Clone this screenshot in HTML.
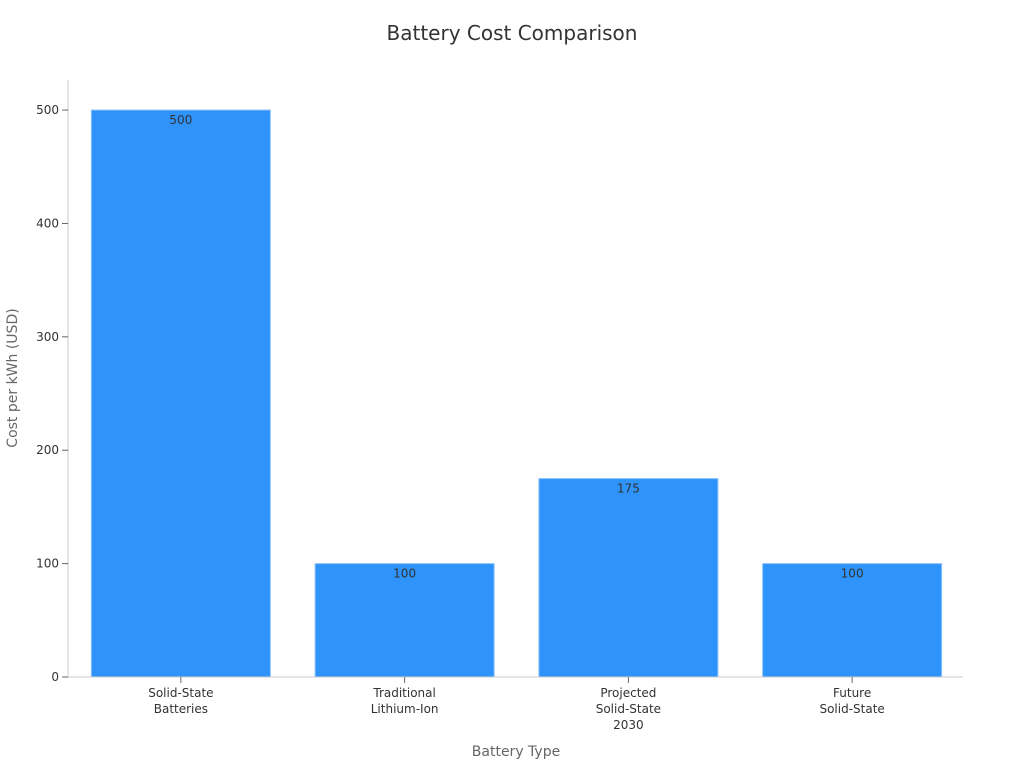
<!DOCTYPE html>
<html>
<head>
<meta charset="utf-8">
<style>
html,body{margin:0;padding:0;background:#fff;}
svg{display:block;font-family:"DejaVu Sans","Liberation Sans",sans-serif;}
</style>
</head>
<body>
<svg id="chart" width="1024" height="768" viewBox="0 0 1024 768">
  <text x="512" y="40" text-anchor="middle" font-size="20" fill="#333">Battery Cost Comparison</text>
  <g id="yaxis"></g>
  <g id="bars"></g>
  <g id="xaxis"></g>
  <text x="516" y="756" text-anchor="middle" font-size="14" fill="#666">Battery Type</text>
  <text transform="translate(17,378) rotate(-90)" text-anchor="middle" font-size="14" fill="#666">Cost per kWh (USD)</text>
</svg>
<script>
const categories = [["Solid-State","Batteries"],["Traditional","Lithium-Ion"],["Projected","Solid-State","2030"],["Future","Solid-State"]];
const values = [500, 100, 175, 100];
const yTicks = [0, 100, 200, 300, 400, 500];

const NS = "http://www.w3.org/2000/svg";
const plotLeft = 68, plotRight = 963, plotTop = 80, plotBottom = 677;
const yMax = 526.5;
function yScale(v){ return plotBottom - v / yMax * (plotBottom - plotTop); }
const band = (plotRight - plotLeft) / categories.length;
function xc(i){ return plotLeft + 1 + band * (i + 0.5); }
const barW = band * 0.8;

function mk(tag, attrs, parent){
  const e = document.createElementNS(NS, tag);
  for (const k in attrs) e.setAttribute(k, attrs[k]);
  parent.appendChild(e);
  return e;
}
const ya = document.getElementById('yaxis');
const barsG = document.getElementById('bars');
const xa = document.getElementById('xaxis');

let ln = mk('line', {x1:plotLeft, y1:plotTop, x2:plotLeft, y2:plotBottom, stroke:'#ccc'}, ya);


yTicks.forEach(t => {
  const tk = mk('line', {x1:plotLeft-6, x2:plotLeft, y1:yScale(t), y2:yScale(t), stroke:'#666'}, ya);
  
  
  const tx = mk('text', {x:plotLeft-9, y:yScale(t)+4, 'text-anchor':'end', 'font-size':12, fill:'#333'}, ya);
  tx.textContent = t;
  
  
});

values.forEach((v, i) => {
  const r = mk('rect', {x:xc(i)-barW/2, y:yScale(v), width:barW, height:plotBottom-yScale(v), fill:'#2E93FA', stroke:'#8cc2f7', 'stroke-width':1}, barsG);
  
  
  const t = mk('text', {x:xc(i), y:yScale(v)+14, 'text-anchor':'middle', 'font-size':12, fill:'#333'}, barsG);
  t.textContent = v;
  
  
});

ln = mk('line', {x1:plotLeft, y1:plotBottom, x2:plotRight, y2:plotBottom, stroke:'#ccc'}, xa);


categories.forEach((c, i) => {
  const tk = mk('line', {x1:xc(i), x2:xc(i), y1:plotBottom, y2:plotBottom+6, stroke:'#666'}, xa);
  
  
  c.forEach((line, j) => {
    const t = mk('text', {x:xc(i), y:697+j*16, 'text-anchor':'middle', 'font-size':12, fill:'#333'}, xa);
    t.textContent = line;
    
    
  });
});
</script>
</body>
</html>
